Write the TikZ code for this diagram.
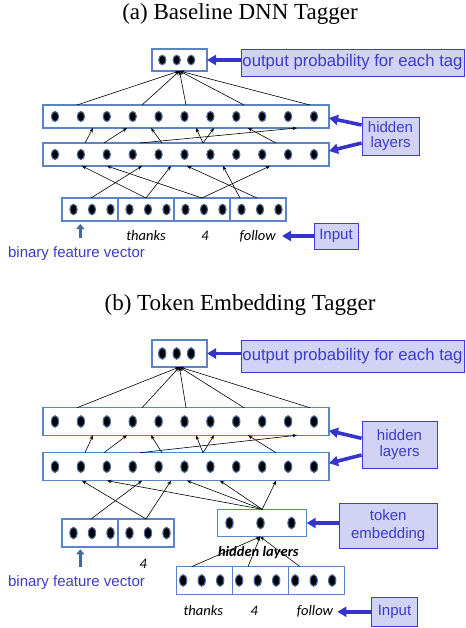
\documentclass[tikz,border=0pt]{standalone}
\usepackage{fontspec}
\setmainfont{Liberation Serif}
\newfontfamily\arialf{Liberation Sans}
\newfontfamily\calibf{Carlito}
\usepackage{xcolor}
\usetikzlibrary{arrows.meta,positioning,shapes.geometric}
\definecolor{boxedge}{HTML}{5B85C2}
\definecolor{dotedge}{HTML}{4A6A9C}
\definecolor{lblfill}{HTML}{D2D2F5}
\definecolor{lbledge}{HTML}{3A3AE8}
\definecolor{lbltext}{HTML}{3C3CCC}
\definecolor{arrblue}{HTML}{3535CC}
\definecolor{upblue}{HTML}{46689A}

\begin{document}
\begin{tikzpicture}[x=1pt,y=-1pt,>={Stealth[length=4.5pt,width=3.5pt]},line width=0.6pt,
  ttl/.style={font=\fontsize{23}{26}\selectfont,anchor=base,inner sep=0pt},
  layer/.style={draw=boxedge,line width=1.4pt,fill=white,inner sep=0pt,outer sep=0pt,minimum height=#1},layer/.default=23pt,
  dot/.style={ellipse,fill=black,draw=dotedge,line width=1.1pt,inner sep=0pt,minimum width=7.2pt,minimum height=#1},dot/.default=9.5pt,
  lbl/.style={draw=lbledge,line width=0.9pt,fill=lblfill,text=lbltext,align=center,inner sep=1pt,font=\arialf\fontsize{15}{15.5}\selectfont},
  lblbig/.style={lbl,font=\arialf\fontsize{16.7}{18}\selectfont},
  note/.style={text=lbltext,inner sep=1pt,anchor=base,font=\arialf\fontsize{15}{17}\selectfont},
  word/.style={inner sep=1pt,anchor=base,font=\calibf\itshape\fontsize{14.5}{16}\selectfont},
  bigarr/.style={draw=arrblue,line width=3.6pt,-{Triangle[length=9pt,width=10pt]}},
  uparr/.style={draw=upblue,line width=2.6pt,-{Triangle[length=5pt,width=8pt]}}]
\useasboundingbox (0,0) rectangle (465,628);

% (a) baseline
\node[ttl] (tA) at (240,19.7) {(a) Baseline DNN Tagger};
\node[layer=22pt,minimum width=55pt] (oA) at (179.5,60) {};
\foreach \j [count=\k] in {-1,0,1} \node[dot] (oA-\k) at ([xshift=-2.8+14.4*\j]oA.center) {};
\node[lblbig,minimum width=223pt,minimum height=27pt] (lA) at (352.5,62.5) {output probability for each tag};
\draw[bigarr] (lA.west |- oA) -- (oA.east);
\node[layer,minimum width=286pt] (hA1) at (186,116.5) {};
\node[layer,minimum width=286pt] (hA2) at (186,154.5) {};
\foreach \i in {0,...,10}{\node[dot=10pt] (hA1-\i) at ([xshift=12+25.9*\i]hA1.west) {};
  \node[dot=10pt] (hA2-\i) at ([xshift=12+25.9*\i]hA2.west) {};}
\node[lbl,minimum width=57pt,minimum height=38pt] (hlA) at (390.5,136) {hidden\\layers};
\draw[bigarr] ([yshift=11]hlA.west) -- ([yshift=-1.5]hA1.east);
\draw[bigarr] ([yshift=-7]hlA.west) -- ([yshift=3.5]hA2.east);
\node[layer,minimum width=56pt] (iA1) at (90,209.5) {};
\node[layer,minimum width=56pt,right=0pt of iA1] (iA2) {};
\node[layer,minimum width=56pt,right=0pt of iA2] (iA3) {};
\node[layer,minimum width=56pt,right=0pt of iA3] (iA4) {};
\foreach \s in {1,...,4}{\foreach \j [count=\k] in {-1,0,1} \node[dot=10.5pt] (iA\s-\k) at ([xshift=2+18.5*\j]iA\s.center) {};}
\node[word] (wA2) at (146,240.5) {thanks};
\node[word] (wA3) at (205,240.5) {4};
\node[word] (wA4) at (257.7,240.5) {follow};
\coordinate (uA) at (80.3,238);
\draw[uparr,shorten >=3pt] (uA) -- (uA |- iA1.south);
\node[note] (bfA) at (76.5,257.5) {binary feature vector};
\node[lbl,minimum width=44pt,minimum height=26pt] (inA) at (336,236) {Input};
\draw[bigarr] (inA.west) -- ([xshift=5]inA.west -| wA4.east);
\foreach \x in {34,99,143,201,267} \draw[->] ([xshift=\x]hA1.north west) -- (oA.south);
\foreach \a/\b in {42/50,61/84,119/108,160/153,160/171,97/254,233/205}
  \draw[->] ([xshift=\a]hA2.north west) -- ([xshift=\b]hA1.south west);
\draw[->] ([xshift=1]iA1.north) -- ([xshift=99]hA2.south west);
\draw[->] (iA2.north) -- ([xshift=128]hA2.south west);
\draw[->] (iA2.north) -- ([xshift=39]hA2.south west);
\draw[->] (iA3.north) -- ([xshift=64]hA2.south west);
\draw[->] (iA3.north) -- ([xshift=227]hA2.south west);
\draw[->] ([xshift=-1]iA4.north) -- ([xshift=144]hA2.south west);
\draw[->] ([xshift=-18]iA4.north) -- ([xshift=180]hA2.south west);

% (b) token embedding
\node[ttl] (tB) at (240,310) {(b) Token Embedding Tagger};
\node[layer=27pt,minimum width=55pt] (oB) at (179.5,353.5) {};
\foreach \j [count=\k] in {-1,0,1} \node[dot=11.5pt] (oB-\k) at ([xshift=-2.8+14.4*\j]oB.center) {};
\node[lblbig,minimum width=223pt,minimum height=32pt] (lB) at (352.5,356) {output probability for each tag};
\draw[bigarr] (lB.west |- oB) -- (oB.east);
\node[layer=27.5pt,minimum width=286pt] (hB1) at (186,421.5) {};
\node[layer=28pt,minimum width=286pt] (hB2) at (186,466.7) {};
\foreach \i in {0,...,10}{\node[dot=11.5pt] (hB1-\i) at ([xshift=12+25.9*\i]hB1.west) {};
  \node[dot=11.5pt] (hB2-\i) at ([xshift=12+25.9*\i]hB2.west) {};}
\node[lbl,minimum width=75pt,minimum height=47pt,font=\arialf\fontsize{15}{16}\selectfont] (hlB) at (399.5,444.7) {hidden\\layers};
\draw[bigarr] ([yshift=6.4]hlB.west) -- ([yshift=-9.2]hB1.east);
\draw[bigarr] ([yshift=-10.3]hlB.west) -- ([yshift=3.4]hB2.east);
\node[layer=28pt,minimum width=56pt] (iB1) at (90,533) {};
\node[layer=28pt,minimum width=56pt,right=0pt of iB1] (iB2) {};
\foreach \s in {1,2}{\foreach \j [count=\k] in {-1,0,1} \node[dot=11.5pt] (iB\s-\k) at ([xshift=2+18.5*\j]iB\s.center) {};}
\node[word] (wB2) at (143.3,568.3) {4};
\coordinate (uB) at (80.3,566.7);
\draw[uparr,shorten >=2.3pt] (uB) -- (uB |- iB1.south);
\node[note] (bfB) at (76.5,586.7) {binary feature vector};
\node[layer=27.4pt,minimum width=89pt] (tokB) at (262.2,523) {};
\foreach \j [count=\k] in {-1,0,1} \node[dot=11.5pt] (tokB-\k) at ([xshift=-1.7+31*\j]tokB.center) {};
\node[lbl,minimum width=97.7pt,minimum height=45pt,font=\arialf\fontsize{15}{17.5}\selectfont] (teB) at (388.2,525.8) {token\\embedding};
\draw[bigarr] (teB.west |- tokB) -- (tokB.east);
\node[layer=27.7pt,minimum width=56pt] (iB3) at (204.7,580.5) {};
\node[layer=27.7pt,minimum width=56pt,right=0pt of iB3] (iB4) {};
\node[layer=27.7pt,minimum width=56pt,right=0pt of iB4] (iB5) {};
\foreach \s in {3,4,5}{\foreach \j [count=\k] in {-1,0,1} \node[dot=11.5pt] (iB\s-\k) at ([xshift=-3+18.5*\j]iB\s.center) {};}
\node[word] (wB3) at (203.3,615.7) {thanks};
\node[word] (wB4) at (254.3,615.7) {4};
\node[word] (wB5) at (315,615.7) {follow};
\node[lbl,minimum width=45.6pt,minimum height=28.3pt] (inB) at (394.5,611.8) {Input};
\draw[bigarr] (inB.west) -- ([xshift=3]inB.west -| wB5.east);
\foreach \x in {34,99,143,201,267} \draw[->] ([xshift=\x]hB1.north west) -- (oB.south);
\foreach \a/\b in {42/50,61/84,119/108,160/153,160/171,97/254,233/205}
  \draw[->] ([xshift=\a]hB2.north west) -- ([xshift=\b]hB1.south west);
\draw[->] ([xshift=1]iB1.north) -- ([xshift=99]hB2.south west);
\draw[->] (iB2.north) -- ([xshift=128]hB2.south west);
\draw[->] (iB2.north) -- ([xshift=39]hB2.south west);
\foreach \x in {64,144,177,233} \draw[->] (tokB.north) -- ([xshift=\x]hB2.south west);
\draw[->] ([xshift=-13]iB3.north) -- ([xshift=-2]tokB.south);
\draw[->] ([xshift=-12.7]iB4.north) -- ([xshift=-2]tokB.south);
\draw[->] ([xshift=-16.7]iB5.north) -- ([xshift=-2]tokB.south);
\node[word,font=\calibf\bfseries\itshape\fontsize{14.5}{16}\selectfont] (hlt) at (258.3,556.7) {hidden layers};
\end{tikzpicture}
\end{document}
